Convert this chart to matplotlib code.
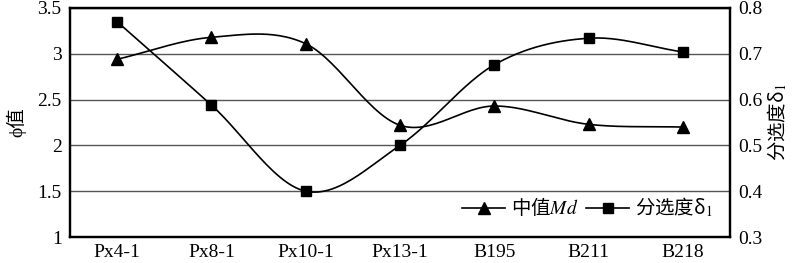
import numpy as np
import matplotlib
matplotlib.use("Agg")
import matplotlib.pyplot as plt
from matplotlib.lines import Line2D

plt.rcParams['font.family'] = ['Liberation Serif', 'Noto Sans CJK SC']
plt.rcParams['mathtext.fontset'] = 'stix'

samples = ["Px4-1", "Px8-1", "Px10-1", "Px13-1", "B195", "B211", "B218"]
md_values = [2.94, 3.18, 3.11, 2.22, 2.43, 2.23, 2.20]
sorting_values = [0.77, 0.588, 0.40, 0.50, 0.676, 0.734, 0.704]


def smooth(x, y, n=30):
    # Catmull-Rom style smoothing (like spreadsheet smoothed lines)
    x = np.asarray(x, float)
    y = np.asarray(y, float)
    px = np.concatenate([[2 * x[0] - x[1]], x, [2 * x[-1] - x[-2]]])
    py = np.concatenate([[2 * y[0] - y[1]], y, [2 * y[-1] - y[-2]]])
    xs, ys = [], []
    t = np.linspace(0, 1, n)
    for i in range(1, len(px) - 2):
        p0, p1, p2, p3 = px[i - 1], px[i], px[i + 1], px[i + 2]
        q0, q1, q2, q3 = py[i - 1], py[i], py[i + 1], py[i + 2]
        a = 0.5 * (2 * p1 + (-p0 + p2) * t + (2 * p0 - 5 * p1 + 4 * p2 - p3) * t ** 2 + (-p0 + 3 * p1 - 3 * p2 + p3) * t ** 3)
        b = 0.5 * (2 * q1 + (-q0 + q2) * t + (2 * q0 - 5 * q1 + 4 * q2 - q3) * t ** 2 + (-q0 + 3 * q1 - 3 * q2 + q3) * t ** 3)
        xs.extend(a)
        ys.extend(b)
    return np.array(xs), np.array(ys)


fig = plt.figure(figsize=(8, 2.63), dpi=100)
ax = fig.add_axes([70 / 800, 1 - 237 / 263, 660 / 800, 229 / 263])
ax2 = ax.twinx()

x = np.arange(len(samples))

ax.set_xlim(-0.5, len(samples) - 0.5)
ax.set_ylim(1, 3.5)
ax.set_yticks([1, 1.5, 2, 2.5, 3, 3.5])
ax.set_yticklabels(["1", "1.5", "2", "2.5", "3", "3.5"])
ax.grid(axis='y', color='#555555', linewidth=1.0)
ax.set_axisbelow(True)
ax2.set_ylim(0.3, 0.8)
ax2.set_yticks([0.3, 0.4, 0.5, 0.6, 0.7, 0.8])
ax2.set_yticklabels(["0.3", "0.4", "0.5", "0.6", "0.7", "0.8"])

sx, sy = smooth(x, md_values)
ax.plot(sx, sy, color='black', linewidth=1.2)
ax.plot(x, md_values, linestyle='none', marker='^', color='black', markersize=9)

sx2, sy2 = smooth(x, sorting_values)
ax2.plot(sx2, sy2, color='black', linewidth=1.2)
ax2.plot(x, sorting_values, linestyle='none', marker='s', color='black', markersize=7)

ax.set_xticks(x)
ax.set_xticklabels(samples)
for a in (ax, ax2):
    a.tick_params(length=0, labelsize=14, pad=6)
    for s in a.spines.values():
        s.set_linewidth(1.6)
ax.tick_params(axis='x', pad=5)

ax.set_ylabel("ϕ值", fontsize=14, family=['Liberation Serif', 'Noto Sans CJK SC'], labelpad=8)
ax2.set_ylabel("分选度δ$_1$", fontsize=14, rotation=90, family=['Noto Sans CJK SC', 'Liberation Serif'], labelpad=2)

handles = [
    Line2D([], [], color='black', marker='^', markersize=9, linewidth=1.2),
    Line2D([], [], color='black', marker='s', markersize=7, linewidth=1.2),
]
labels = ["中值$\\mathit{Md}$", "分选度δ$_1$"]
leg = ax2.legend(handles, labels, loc='lower right', ncol=2, frameon=False,
                 prop={'family': ['Noto Sans CJK SC', 'Liberation Serif'], 'size': 14},
                 handlelength=2.2, columnspacing=0.4, handletextpad=0.3,
                 bbox_to_anchor=(1.0, 0.0))

fig.savefig("out.png", dpi=100)
